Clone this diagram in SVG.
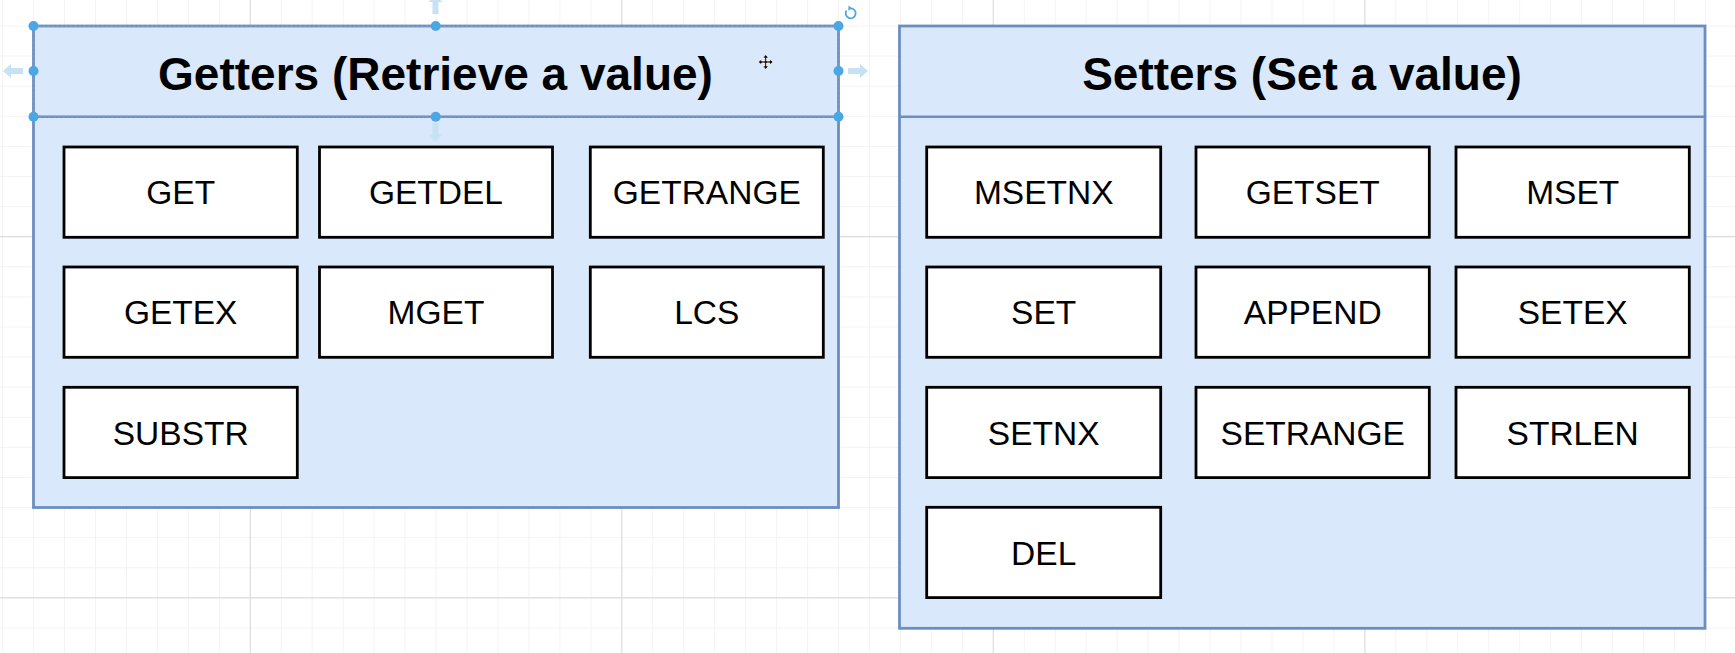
<svg xmlns="http://www.w3.org/2000/svg" width="1735" height="653" viewBox="0 0 1735 653">
<style>
.grid{stroke:#f3f3f3;stroke-width:1;fill:none}
.gridmaj{stroke:#dcdcdc;stroke-width:1.2;fill:none}
.cont{fill:#dae8fc;stroke:#6c8ebf;stroke-width:2.8}
.hdr{fill:none;stroke:#6c8ebf;stroke-width:2.5}
.sel{fill:none;stroke:#7d97c4;stroke-width:2;stroke-dasharray:3 1.5}
.box{fill:#ffffff;stroke:#000000;stroke-width:2.8}
.title{font-family:"Liberation Sans",Arial,Helvetica,sans-serif;font-weight:bold;font-size:46px;fill:#000;text-anchor:middle}
.lbl{font-family:"Liberation Sans",Arial,Helvetica,sans-serif;font-size:33.5px;fill:#000;text-anchor:middle}
.handle{fill:#4aa6e4}
.hint{fill:#c8e2f5}
</style>
<rect x="0" y="0" width="1735" height="653" fill="#ffffff"/>
<g id="grid">
<path class="grid" d="M2.6 0V653M33.6 0V653M64.5 0V653M95.5 0V653M126.5 0V653M157.4 0V653M188.4 0V653M219.3 0V653M281.3 0V653M312.2 0V653M343.2 0V653M374.1 0V653M405.1 0V653M436.1 0V653M467 0V653M498 0V653M528.9 0V653M559.9 0V653M590.9 0V653M652.8 0V653M683.7 0V653M714.7 0V653M745.7 0V653M776.6 0V653M807.6 0V653M838.5 0V653M869.5 0V653M900.5 0V653M931.4 0V653M962.4 0V653M1024.3 0V653M1055.3 0V653M1086.2 0V653M1117.2 0V653M1148.1 0V653M1179.1 0V653M1210.1 0V653M1241 0V653M1272 0V653M1302.9 0V653M1333.9 0V653M1395.8 0V653M1426.8 0V653M1457.7 0V653M1488.7 0V653M1519.7 0V653M1550.6 0V653M1581.6 0V653M1612.5 0V653M1643.5 0V653M1674.5 0V653M1705.4 0V653M0 26H1735M0 56.1H1735M0 86.2H1735M0 116.3H1735M0 146.4H1735M0 176.5H1735M0 206.6H1735M0 266.8H1735M0 296.9H1735M0 327H1735M0 357.1H1735M0 387.2H1735M0 417.3H1735M0 447.4H1735M0 477.5H1735M0 507.6H1735M0 537.7H1735M0 567.8H1735M0 628H1735"/>
<path class="gridmaj" d="M250.3 0V653M621.8 0V653M993.3 0V653M1364.9 0V653M0 236.7H1735M0 597.9H1735"/>
</g>

<g id="getters">
<rect class="cont" x="33.5" y="26" width="805" height="481.5"/>
<line class="hdr" x1="33.5" y1="116.7" x2="838.5" y2="116.7"/>
<text class="title" x="435.5" y="89.5">Getters (Retrieve a value)</text>
</g>

<g id="setters">
<rect class="cont" x="899.5" y="26" width="805.5" height="602.3"/>
<line class="hdr" x1="899.5" y1="116.7" x2="1705" y2="116.7"/>
<text class="title" x="1302" y="89.5">Setters (Set a value)</text>
</g>

<g id="node-get"><rect class="box" x="64" y="147" width="233.3" height="90.3"/><text class="lbl" x="180.7" y="204.3">GET</text></g>
<g id="node-getdel"><rect class="box" x="319.5" y="147" width="233" height="90.3"/><text class="lbl" x="436" y="204.3">GETDEL</text></g>
<g id="node-getrange"><rect class="box" x="590.3" y="147" width="233" height="90.3"/><text class="lbl" x="706.8" y="204.3">GETRANGE</text></g>
<g id="node-getex"><rect class="box" x="64" y="267" width="233.3" height="90.3"/><text class="lbl" x="180.7" y="324.3">GETEX</text></g>
<g id="node-mget"><rect class="box" x="319.5" y="267" width="233" height="90.3"/><text class="lbl" x="436" y="324.3">MGET</text></g>
<g id="node-lcs"><rect class="box" x="590.3" y="267" width="233" height="90.3"/><text class="lbl" x="706.8" y="324.3">LCS</text></g>
<g id="node-substr"><rect class="box" x="64" y="387.3" width="233.3" height="90.3"/><text class="lbl" x="180.7" y="444.6">SUBSTR</text></g>

<g id="node-msetnx"><rect class="box" x="926.7" y="147" width="234" height="90.3"/><text class="lbl" x="1043.7" y="204.3">MSETNX</text></g>
<g id="node-getset"><rect class="box" x="1196" y="147" width="233.3" height="90.3"/><text class="lbl" x="1312.7" y="204.3">GETSET</text></g>
<g id="node-mset"><rect class="box" x="1456" y="147" width="233.3" height="90.3"/><text class="lbl" x="1572.7" y="204.3">MSET</text></g>
<g id="node-set"><rect class="box" x="926.7" y="267" width="234" height="90.3"/><text class="lbl" x="1043.7" y="324.3">SET</text></g>
<g id="node-append"><rect class="box" x="1196" y="267" width="233.3" height="90.3"/><text class="lbl" x="1312.7" y="324.3">APPEND</text></g>
<g id="node-setex"><rect class="box" x="1456" y="267" width="233.3" height="90.3"/><text class="lbl" x="1572.7" y="324.3">SETEX</text></g>
<g id="node-setnx"><rect class="box" x="926.7" y="387.3" width="234" height="90.3"/><text class="lbl" x="1043.7" y="444.6">SETNX</text></g>
<g id="node-setrange"><rect class="box" x="1196" y="387.3" width="233.3" height="90.3"/><text class="lbl" x="1312.7" y="444.6">SETRANGE</text></g>
<g id="node-strlen"><rect class="box" x="1456" y="387.3" width="233.3" height="90.3"/><text class="lbl" x="1572.7" y="444.6">STRLEN</text></g>
<g id="node-del"><rect class="box" x="926.7" y="507.3" width="234" height="90.3"/><text class="lbl" x="1043.7" y="564.6">DEL</text></g>

<g id="connectors"></g>

<g id="selection">
<rect class="sel" x="33.5" y="26" width="805" height="90.7"/>
<path class="hint" d="M432.5 14V2h-4l7-7 7 7h-4v12z"/>
<path class="hint" d="M432.5 123v11h-4l7 8 7-8h-4v-11z"/>
<path class="hint" d="M23 68H11v-4l-8 7 8 7v-4h12z"/>
<path class="hint" d="M848 68h12v-4l8 7-8 7v-4h-12z"/>
<circle class="handle" cx="33.5" cy="26" r="5"/>
<circle class="handle" cx="435.7" cy="26" r="5"/>
<circle class="handle" cx="838.5" cy="26" r="5"/>
<circle class="handle" cx="33.5" cy="71" r="5"/>
<circle class="handle" cx="838.5" cy="71" r="5"/>
<circle class="handle" cx="33.5" cy="116.7" r="5"/>
<circle class="handle" cx="435.7" cy="116.7" r="5"/>
<circle class="handle" cx="838.5" cy="116.7" r="5"/>
<path d="M846.5 10.5a5 5 0 1 0 4-2.2" fill="none" stroke="#4aa6e4" stroke-width="1.8"/>
<path d="M848.5 5.5l3.5 2.8-3.7 2.4z" fill="#4aa6e4"/>
<path d="M765.7 54.5l-3 3.5h2v3h-3v-2l-3.5 3 3.5 3v-2h3v3h-2l3 3.5 3-3.5h-2v-3h3v2l3.5-3-3.5-3v2h-3v-3h2z" fill="#111" stroke="#fff" stroke-width="0.8"/>
</g>
</svg>
